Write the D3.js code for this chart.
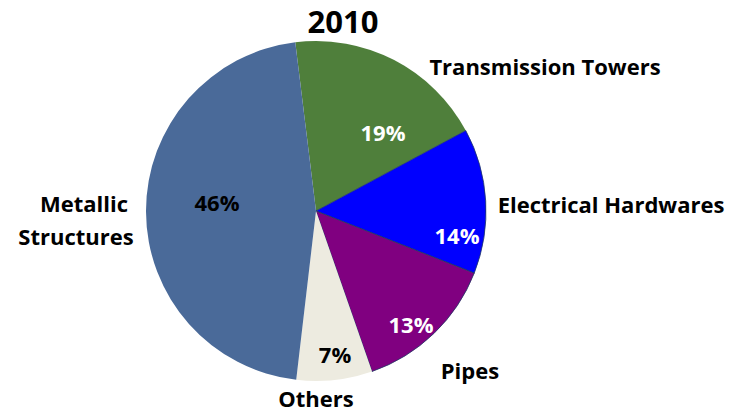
<!DOCTYPE html>
<html>
<head>
<meta charset="utf-8">
<script src="https://cdn.jsdelivr.net/npm/d3@7"></script>
<style>
  html, body { margin: 0; padding: 0; background: #fff; }
  svg { display: block; font-family: "Open Sans", Lato, sans-serif; font-weight: bold; }
</style>
</head>
<body>
<svg id="chart" width="740" height="412"></svg>
<script>
// ---- data ----
const title = "2010";
const categories = ["Transmission Towers", "Electrical Hardwares", "Pipes", "Others", "Metallic Structures"];
const values = [19.1, 13.8, 13.7, 7.2, 46.2];
const percentLabels = ["19%", "14%", "13%", "7%", "46%"];
const colors = ["#4f7f3b", "#0000ff", "#800080", "#edebe0", "#4a6a99"];
const percentColors = ["#ffffff", "#ffffff", "#ffffff", "#000000", "#000000"];

// ---- layout ----
const W = 740, H = 412;
const cx = 316, cy = 211, R = 170;
const startAngle = -7 * Math.PI / 180;
// label placements relative to pie centre (px)
const pctPos = [[67, -78], [141, 25], [95, 114], [19, 144], [-99, -8]];
const catPos = [
  { text: "Transmission Towers", x: 229, y: -144 },
  { text: "Electrical Hardwares", x: 295, y: -6 },
  { text: "Pipes", x: 154, y: 160 },
  { text: "Others", x: 0, y: 188 },
  { text: "Metallic", x: -232, y: -7 },
  { text: "Structures", x: -240, y: 26 }
];

const svg = d3.select("#chart");
const g = svg.append("g").attr("transform", `translate(${cx},${cy})`);

const pie = d3.pie().sort(null).value(d => d)
  .startAngle(startAngle).endAngle(startAngle + 2 * Math.PI);
const arcs = pie(values);
const arc = d3.arc().innerRadius(0).outerRadius(R);

g.selectAll("path.slice").data(arcs).enter().append("path")
  .attr("class", "slice")
  .attr("d", arc)
  .attr("fill", (d, i) => colors[i])
  .attr("stroke", (d, i) => i === 2 || i === 1 ? "#1f3864" : "none")
  .attr("stroke-width", 0.8);

// percentage labels
g.selectAll("text.pct").data(arcs).enter().append("text")
  .attr("class", "pct")
  .attr("x", (d, i) => pctPos[i][0])
  .attr("y", (d, i) => pctPos[i][1])
  .attr("dy", "0.35em")
  .attr("text-anchor", "middle")
  .attr("font-size", 22)
  .attr("fill", (d, i) => percentColors[i])
  .text((d, i) => percentLabels[i]);

// category labels
catPos.forEach(p => {
  g.append("text")
    .attr("x", p.x)
    .attr("y", p.y)
    .attr("dy", "0.35em")
    .attr("text-anchor", "middle")
    .attr("font-size", 22)
    .attr("fill", "#000")
    .text(p.text);
});

// title
svg.append("text")
  .attr("x", 343).attr("y", 22).attr("dy", "0.35em")
  .attr("text-anchor", "middle")
  .attr("font-size", 31)
  .attr("fill", "#000")
  .text(title);
</script>
</body>
</html>
